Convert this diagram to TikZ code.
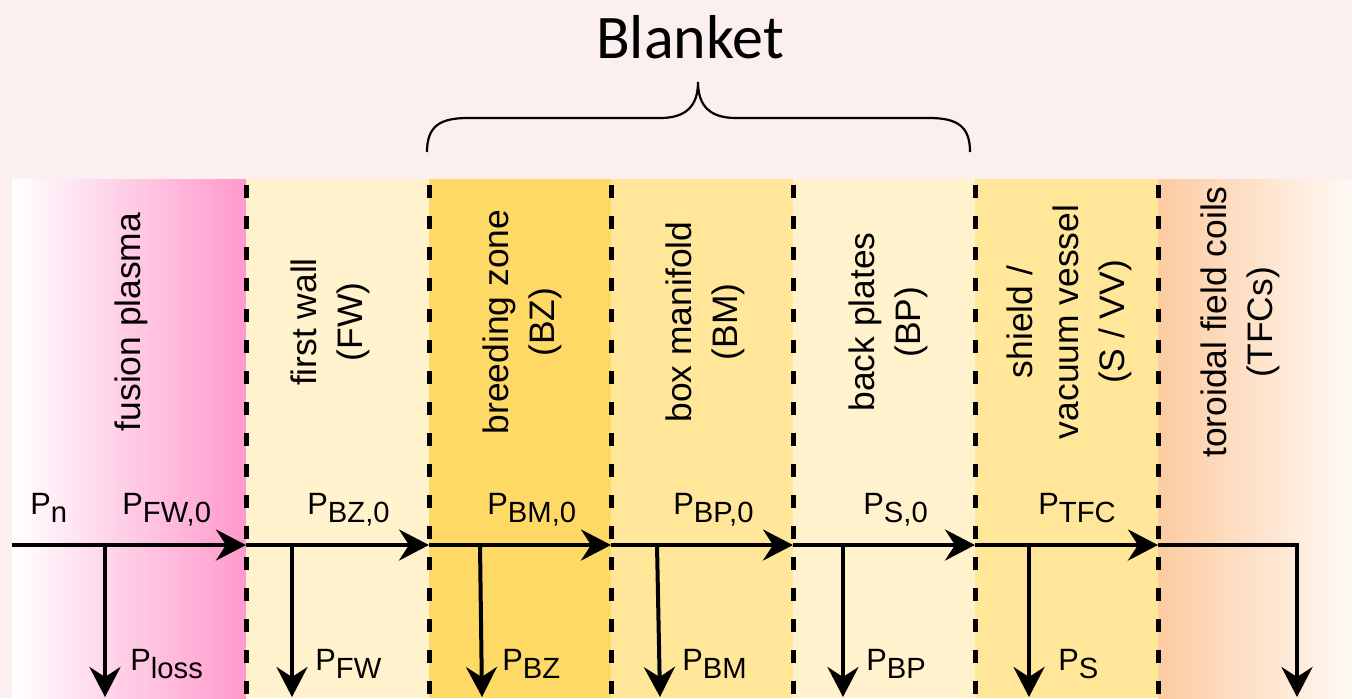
\documentclass[tikz,border=0pt]{standalone}
\usepackage{fontspec}
\setmainfont{Liberation Sans}
\newfontfamily\calibrifont{Carlito}
\usepackage{xcolor}
\usetikzlibrary{arrows.meta,positioning}

\definecolor{bgpink}{RGB}{252,239,239}
\definecolor{plasmapink}{RGB}{255,153,204}
\definecolor{palecream}{RGB}{255,242,204}
\definecolor{bzgold}{RGB}{255,217,102}
\definecolor{wheat}{RGB}{255,230,153}
\definecolor{peach}{RGB}{252,203,160}
\definecolor{fadewhite}{RGB}{255,249,244}

% power symbol with a (nearly full size) lowered index
\newcommand{\pw}[1]{P\raisebox{-4pt}{\fontsize{14.6}{15}\selectfont #1}}

\begin{document}
\begin{tikzpicture}[x=0.5pt, y=-0.5pt,
  layerlbl/.style={rotate=90, align=center, inner sep=0pt,
                   font=\fontsize{17.7}{23}\selectfont},
  pwr/.style={anchor=base west, inner sep=0pt, font=\fontsize{15.4}{18}\selectfont},
  flow/.style={-{Stealth[length=15pt, width=15.5pt, inset=5pt]}, line width=2pt},
  bound/.style={line width=2.5pt, dash pattern=on 6.5pt off 9pt},
]
  \useasboundingbox (0,0) rectangle (1352,698);
  \fill[bgpink] (0,0) rectangle (1352,698);

  % layers, inboard to outboard
  \shade[left color=white, right color=plasmapink] (12,179) rectangle (246,698);
  \fill[palecream] (246,179) rectangle (429,698);
  \fill[bzgold]    (429,179) rectangle (611,698);
  \fill[wheat]     (611,179) rectangle (793,698);
  \fill[palecream] (793,179) rectangle (975,698);
  \fill[wheat]     (975,179) rectangle (1158,698);
  \shade[left color=peach, right color=fadewhite] (1158,179) rectangle (1352,698);

  % layer interfaces
  \draw[bound] (246,185) -- (246,698);
  \draw[bound] (429,185) -- (429,698);
  \draw[bound] (611,185) -- (611,698);
  \draw[bound] (793,185) -- (793,698);
  \draw[bound] (975,185) -- (975,698);
  \draw[bound] (1158,185) -- (1158,698);

  % layer names
  \node[layerlbl] (plasma) at (131,322) {fusion plasma};
  \node[layerlbl] (fw)  at (330,322)  {first wall\\(FW)};
  \node[layerlbl] (bz)  at (522,322)  {breeding zone\\(BZ)};
  \node[layerlbl] (bm)  at (705,322)  {box manifold\\(BM)};
  \node[layerlbl] (bp)  at (888,322)  {back plates\\(BP)};
  \node[layerlbl] (svv) at (1069,322) {shield /\\vacuum vessel\\(S / VV)};
  \node[layerlbl] (tfc) at (1240,322) {toroidal field coils\\(TFCs)};

  % blanket brace
  \coordinate (brl) at (427,152);
  \coordinate (brt) at (698,82);
  \coordinate (brr) at (970,152);
  \draw[line width=1.1pt] (brl) .. controls (427,126) and (440,118) .. (468,118)
    -- (660,118) .. controls (686,118) and (698,106) .. (brt)
    .. controls (698,106) and (710,118) .. (736,118)
    -- (929,118) .. controls (957,118) and (970,126) .. (brr);
  \node[anchor=base, inner sep=0pt, font=\calibrifont\fontsize{31}{36}\selectfont]
    (blanket) at (690,58) {Blanket};

  % neutron power flow through the layers
  \coordinate (f0) at (12,545);
  \coordinate (f1) at (246,545);
  \coordinate (f2) at (429,545);
  \coordinate (f3) at (611,545);
  \coordinate (f4) at (793,545);
  \coordinate (f5) at (975,545);
  \coordinate (f6) at (1158,545);
  \coordinate (fc) at (1297,545);
  \coordinate (fo) at (1297,697);
  \draw[flow] (f0) -- (f1);
  \draw[flow] (f1) -- (f2);
  \draw[flow] (f2) -- (f3);
  \draw[flow] (f3) -- (f4);
  \draw[flow] (f4) -- (f5);
  \draw[flow] (f5) -- (f6);
  \draw[flow] (f6) -- (fc) -- (fo);

  % power deposited in each layer
  \coordinate (t1) at (105,545);  \coordinate (d1) at (105,697);
  \coordinate (t2) at (292,545);  \coordinate (d2) at (292,697);
  \coordinate (t3) at (480,545);  \coordinate (d3) at (482,697);
  \coordinate (t4) at (657,545);  \coordinate (d4) at (660,697);
  \coordinate (t5) at (843,545);  \coordinate (d5) at (843,697);
  \coordinate (t6) at (1029,545); \coordinate (d6) at (1029,697);
  \draw[flow] (t1) -- (d1);
  \draw[flow] (t2) -- (d2);
  \draw[flow] (t3) -- (d3);
  \draw[flow] (t4) -- (d4);
  \draw[flow] (t5) -- (d5);
  \draw[flow] (t6) -- (d6);

  % labels on the flow
  \node[pwr] (pn)   at (30,514)   {\pw{n}};
  \node[pwr] (pfw0) at (122,514)  {\pw{FW,0}};
  \node[pwr] (pbz0) at (307,514)  {\pw{BZ,0}};
  \node[pwr] (pbm0) at (487,514)  {\pw{BM,0}};
  \node[pwr] (pbp0) at (673,514)  {\pw{BP,0}};
  \node[pwr] (ps0)  at (863,514)  {\pw{S,0}};
  \node[pwr] (ptfc) at (1038,514) {\pw{TFC}};

  \node[pwr] (ploss) at (130,670)  {\pw{loss}};
  \node[pwr] (pfw)   at (315,670)  {\pw{FW}};
  \node[pwr] (pbz)   at (502,670)  {\pw{BZ}};
  \node[pwr] (pbm)   at (682,670)  {\pw{BM}};
  \node[pwr] (pbp)   at (866,670)  {\pw{BP}};
  \node[pwr] (ps)    at (1058,670) {\pw{S}};
\end{tikzpicture}
\end{document}
